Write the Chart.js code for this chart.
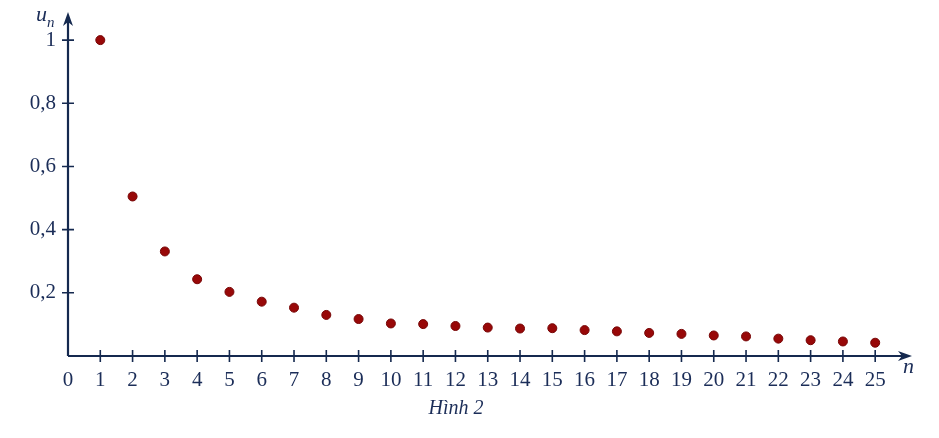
<!DOCTYPE html>
<html>
<head>
<meta charset="utf-8">
<script src="https://cdn.jsdelivr.net/npm/chart.js@4"></script>
<style>
  html, body { margin: 0; padding: 0; background: #ffffff; }
  #wrap { width: 939px; height: 438px; }
</style>
</head>
<body>
<div id="wrap"><canvas id="dayChart" width="939" height="438"></canvas></div>
<script>
// du lieu doc tu hinh
const chiSo = [1, 2, 3, 4, 5, 6, 7, 8, 9, 10, 11, 12, 13, 14, 15, 16, 17, 18, 19, 20, 21, 22, 23, 24, 25];
const giaTriUn = [1, 0.505, 0.331, 0.243, 0.203, 0.172, 0.153, 0.130, 0.117, 0.103, 0.101, 0.095, 0.090,
                  0.087, 0.088, 0.082, 0.078, 0.073, 0.070, 0.065, 0.062, 0.055, 0.050, 0.046, 0.042];
const nhanTrucX = [0, 1, 2, 3, 4, 5, 6, 7, 8, 9, 10, 11, 12, 13, 14, 15, 16, 17, 18, 19, 20, 21, 22, 23, 24, 25];
const nhanTrucY = [0.2, 0.4, 0.6, 0.8, 1];

const mauTruc = '#15294f';
const mauChu = '#1b2d58';
const fontSerif = '"Liberation Serif", "Times New Roman", serif';

const diem = chiSo.map((n, i) => ({ x: n, y: giaTriUn[i] }));

// ve truc co mui ten, vach chia va ten truc
const trucMuiTen = {
    id: 'trucMuiTen',
    afterDraw(chart) {
        const ctx = chart.ctx;
        const sx = chart.scales.x, sy = chart.scales.y;
        const x0 = sx.getPixelForValue(0);
        const y0 = sy.getPixelForValue(0);
        const xEnd = chart.chartArea.right;
        const yTop = chart.chartArea.top;
        ctx.save();
        ctx.strokeStyle = mauTruc;
        ctx.fillStyle = mauTruc;
        ctx.lineWidth = 2.2;
        ctx.beginPath();
        ctx.moveTo(x0, y0);
        ctx.lineTo(xEnd - 6, y0);
        ctx.moveTo(x0, y0);
        ctx.lineTo(x0, yTop + 6);
        ctx.stroke();
        // mui ten
        ctx.beginPath();
        ctx.moveTo(xEnd, y0);
        ctx.lineTo(xEnd - 14, y0 - 5);
        ctx.lineTo(xEnd - 10, y0);
        ctx.lineTo(xEnd - 14, y0 + 5);
        ctx.closePath();
        ctx.fill();
        ctx.beginPath();
        ctx.moveTo(x0, yTop);
        ctx.lineTo(x0 - 5, yTop + 14);
        ctx.lineTo(x0, yTop + 10);
        ctx.lineTo(x0 + 5, yTop + 14);
        ctx.closePath();
        ctx.fill();
        // vach chia
        ctx.lineWidth = 1.6;
        ctx.beginPath();
        nhanTrucX.forEach(v => {
            if (v === 0) return;
            const px = sx.getPixelForValue(v);
            ctx.moveTo(px, y0 - 6);
            ctx.lineTo(px, y0 + 6);
        });
        nhanTrucY.forEach(v => {
            const py = sy.getPixelForValue(v);
            ctx.moveTo(x0 - 6, py);
            ctx.lineTo(x0 + 6, py);
        });
        ctx.stroke();
        // ten truc
        ctx.fillStyle = mauChu;
        ctx.font = 'italic 22px ' + fontSerif;
        ctx.textBaseline = 'alphabetic';
        ctx.textAlign = 'left';
        ctx.fillText('u', 36, 21);
        ctx.font = 'italic 15px ' + fontSerif;
        ctx.fillText('n', 47, 27);
        ctx.font = 'italic 22px ' + fontSerif;
        ctx.fillText('n', 903, 373);
        ctx.restore();
    }
};

const ctx = document.getElementById('dayChart').getContext('2d');
const chart = new Chart(ctx, {
    type: 'scatter',
    data: {
        datasets: [{
            label: 'u_n',
            data: diem,
            backgroundColor: '#980808',
            borderColor: '#760505',
            borderWidth: 1,
            pointRadius: 4.5,
            pointHoverRadius: 4.5
        }]
    },
    options: {
        responsive: false,
        animation: false,
        layout: {
            padding: { top: 12, right: 27, left: 0, bottom: 0 }
        },
        plugins: {
            legend: { display: false },
            tooltip: { enabled: false },
            title: {
                display: true,
                position: 'bottom',
                text: 'Hình 2',
                color: mauChu,
                font: { family: fontSerif, size: 20, style: 'italic', weight: 'normal', lineHeight: 1.2 },
                padding: { top: 0, bottom: 17 }
            }
        },
        scales: {
            x: {
                type: 'linear',
                min: 0,
                max: 26.14,
                afterBuildTicks: (scale) => { scale.ticks = nhanTrucX.map(v => ({ value: v })); },
                afterFit: (scale) => {
                    scale.height = 41;
                    scale.paddingLeft = 0;
                    scale.paddingRight = 0;
                },
                border: { display: false },
                grid: { display: false, drawTicks: false },
                ticks: {
                    color: mauChu,
                    font: { family: fontSerif, size: 21 },
                    padding: 12,
                    maxRotation: 0,
                    autoSkip: false
                }
            },
            y: {
                type: 'linear',
                min: 0,
                max: 1.089,
                afterBuildTicks: (scale) => { scale.ticks = nhanTrucY.map(v => ({ value: v })); },
                afterFit: (scale) => {
                    scale.width = 68;
                    scale.paddingTop = 0;
                    scale.paddingBottom = 0;
                },
                border: { display: false },
                grid: { display: false, drawTicks: false },
                ticks: {
                    color: mauChu,
                    font: { family: fontSerif, size: 21 },
                    padding: 12,
                    callback: (v) => String(v).replace('.', ',')
                }
            }
        }
    },
    plugins: [trucMuiTen]
});
</script>
</body>
</html>
